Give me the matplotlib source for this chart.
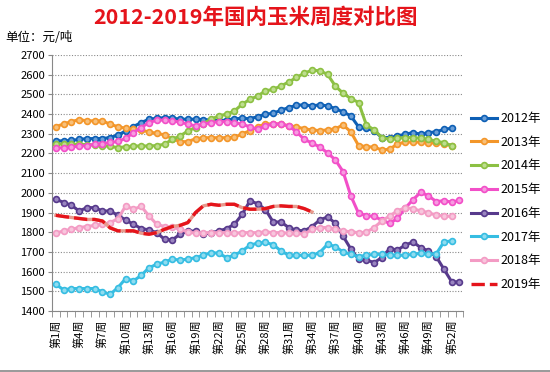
import numpy as np
import matplotlib
matplotlib.use('Agg')
from matplotlib import pyplot as plt
from matplotlib.lines import Line2D

plt.rcParams['font.family'] = ['Noto Sans CJK SC', 'DejaVu Sans']

# week labels shown on the x axis (every 3rd week)
label_weeks = list(range(1, 54, 3))
week_labels = ['第%d周' % w for w in label_weeks]
years = ['2012年', '2013年', '2014年', '2015年', '2016年', '2017年', '2018年', '2019年']

# weekly prices, yuan/ton
y2012 = [2264, 2264, 2266, 2272, 2275, 2276, 2276, 2281, 2294, 2314, 2337, 2357, 2374,
         2379, 2382, 2380, 2374, 2374, 2374, 2372, 2370, 2366, 2370, 2376, 2379, 2377,
         2387, 2400, 2404, 2420, 2433, 2445, 2447, 2442, 2447, 2442, 2428, 2411, 2391,
         2335, 2328, 2315, 2281, 2281, 2289, 2298, 2306, 2298, 2306, 2310, 2323, 2328]
y2013 = [2336, 2350, 2362, 2372, 2366, 2366, 2366, 2348, 2336, 2328, 2322, 2318, 2310,
         2302, 2295, 2275, 2260, 2260, 2275, 2280, 2280, 2280, 2280, 2282, 2300, 2315,
         2336, 2350, 2350, 2350, 2340, 2336, 2325, 2320, 2316, 2320, 2325, 2345, 2310,
         2240, 2235, 2232, 2218, 2222, 2248, 2258, 2258, 2258, 2255, 2252, 2248, 2240]
y2014 = [2248, 2248, 2247, 2246, 2245, 2243, 2240, 2236, 2230, 2234, 2238, 2238, 2238,
         2240, 2247, 2272, 2289, 2314, 2332, 2352, 2374, 2391, 2400, 2416, 2450, 2475,
         2492, 2518, 2526, 2543, 2563, 2586, 2608, 2623, 2620, 2602, 2543, 2506, 2479,
         2459, 2345, 2320, 2281, 2272, 2277, 2281, 2281, 2277, 2272, 2262, 2255, 2240]
y2015 = [2227, 2230, 2233, 2238, 2240, 2247, 2250, 2256, 2261, 2277, 2306, 2332, 2357,
         2369, 2370, 2365, 2360, 2349, 2340, 2349, 2357, 2362, 2362, 2357, 2349, 2335,
         2322, 2340, 2350, 2350, 2340, 2310, 2272, 2253, 2233, 2203, 2168, 2108, 1985,
         1896, 1885, 1880, 1862, 1845, 1870, 1922, 1965, 2003, 1985, 1956, 1960, 1953, 1962]
y2016 = [1968, 1951, 1937, 1908, 1925, 1925, 1908, 1908, 1886, 1862, 1840, 1819, 1812,
         1798, 1764, 1761, 1790, 1806, 1806, 1790, 1798, 1806, 1819, 1840, 1891, 1959,
         1945, 1915, 1852, 1852, 1824, 1810, 1807, 1829, 1862, 1878, 1846, 1780, 1715,
         1663, 1659, 1646, 1671, 1717, 1710, 1734, 1751, 1722, 1705, 1676, 1612, 1548, 1548]
y2017 = [1536, 1507, 1514, 1514, 1514, 1514, 1497, 1485, 1519, 1565, 1553, 1581, 1620,
         1637, 1649, 1663, 1659, 1663, 1671, 1683, 1697, 1693, 1671, 1683, 1705, 1734,
         1745, 1748, 1737, 1705, 1683, 1683, 1683, 1683, 1697, 1739, 1727, 1700, 1688,
         1676, 1683, 1688, 1688, 1683, 1683, 1683, 1688, 1693, 1690, 1690, 1751, 1756]
y2018 = [1795, 1807, 1815, 1824, 1829, 1835, 1840, 1849, 1869, 1934, 1917, 1931, 1883,
         1840, 1829, 1826, 1815, 1802, 1795, 1798, 1798, 1798, 1798, 1795, 1798, 1798,
         1798, 1802, 1798, 1798, 1795, 1795, 1790, 1815, 1824, 1824, 1815, 1807, 1802,
         1798, 1800, 1824, 1857, 1883, 1908, 1925, 1920, 1908, 1900, 1886, 1883, 1880]
y2019 = [1886, 1880, 1875, 1870, 1865, 1865, 1857, 1822, 1807, 1807, 1807, 1795, 1790,
         1798, 1815, 1829, 1835, 1849, 1900, 1934, 1942, 1937, 1942, 1942, 1925, 1917,
         1917, 1920, 1931, 1934, 1931, 1931, 1920, 1903]

series = [y2012, y2013, y2014, y2015, y2016, y2017, y2018, y2019]
colors = ['#0d5fb5', '#f3962a', '#8cc043', '#f24fc8', '#573a8c', '#36bde2', '#f39bc4', '#e5141b']
faces = ['#6b9fd8', '#f8c07a', '#bede8e', '#f79be0', '#9a85c0', '#8fdcf0', '#f8c6dd', '#e5141b']

fig = plt.figure(figsize=(5.5, 3.72), dpi=100)
ax = fig.add_axes([0.0945, 0.164, 0.748, 0.688])

for i, vals in enumerate(series[:-1]):
    wk = np.arange(1, len(vals) + 1)
    ax.plot(wk, vals, color=colors[i], lw=2.2, marker='o', ms=4.2, mew=1.2,
            mfc=faces[i], mec=colors[i], label=years[i], zorder=3 + i)

# 2019: red line with dashes
wk = np.arange(1, len(y2019) + 1)
ax.plot(wk, y2019, color='#e79a8e', lw=2.4, zorder=11)
ax.plot(wk, y2019, color='#e5141b', lw=2.4, dashes=(4, 1.5), zorder=12)

ax.set_xlim(0.5, 53.5)
ax.set_ylim(1400, 2700)
ax.set_yticks(range(1400, 2701, 100))
ax.tick_params(axis='y', labelsize=8, length=3, color='#888888', pad=2)
ax.set_xticks(label_weeks)
ax.set_xticklabels(week_labels, rotation=90, fontsize=8)
ax.tick_params(axis='x', which='major', length=0, pad=6)
ax.set_xticks(np.arange(0.5, 54, 1), minor=True)
ax.tick_params(axis='x', which='minor', length=4, color='#888888')

ax.grid(axis='y', color='#8a8a8a', linestyle=(0, (1, 1.5)), lw=0.8)
ax.set_axisbelow(True)
for s in ['top', 'right']:
    ax.spines[s].set_visible(False)
ax.spines['left'].set_color('#888888')
ax.spines['bottom'].set_color('#888888')

handles = []
for i in range(7):
    handles.append(Line2D([], [], color=colors[i], lw=2.2, marker='o', ms=4.2, mew=1.2,
                          mfc=faces[i], mec=colors[i]))
handles.append(Line2D([], [], color='#e5141b', lw=2.4, dashes=(4, 1.5)))
fig.legend(handles, years, loc='upper left', bbox_to_anchor=(0.856, 0.699), frameon=False,
           fontsize=9, handlelength=2.1, handletextpad=0.25, labelspacing=0.86,
           borderpad=0, borderaxespad=0)

fig.text(0.464, 0.954, '2012-2019年国内玉米周度对比图', color='#e5141b', fontsize=15.5,
         fontweight='bold', ha='center', va='center')
fig.text(0.01, 0.9, '单位：元/吨', fontsize=9, ha='left', va='center')

fig.add_artist(Line2D([0, 1], [0.004, 0.004], color='#888888', lw=1.2))

fig.savefig('out.png', dpi=100)
